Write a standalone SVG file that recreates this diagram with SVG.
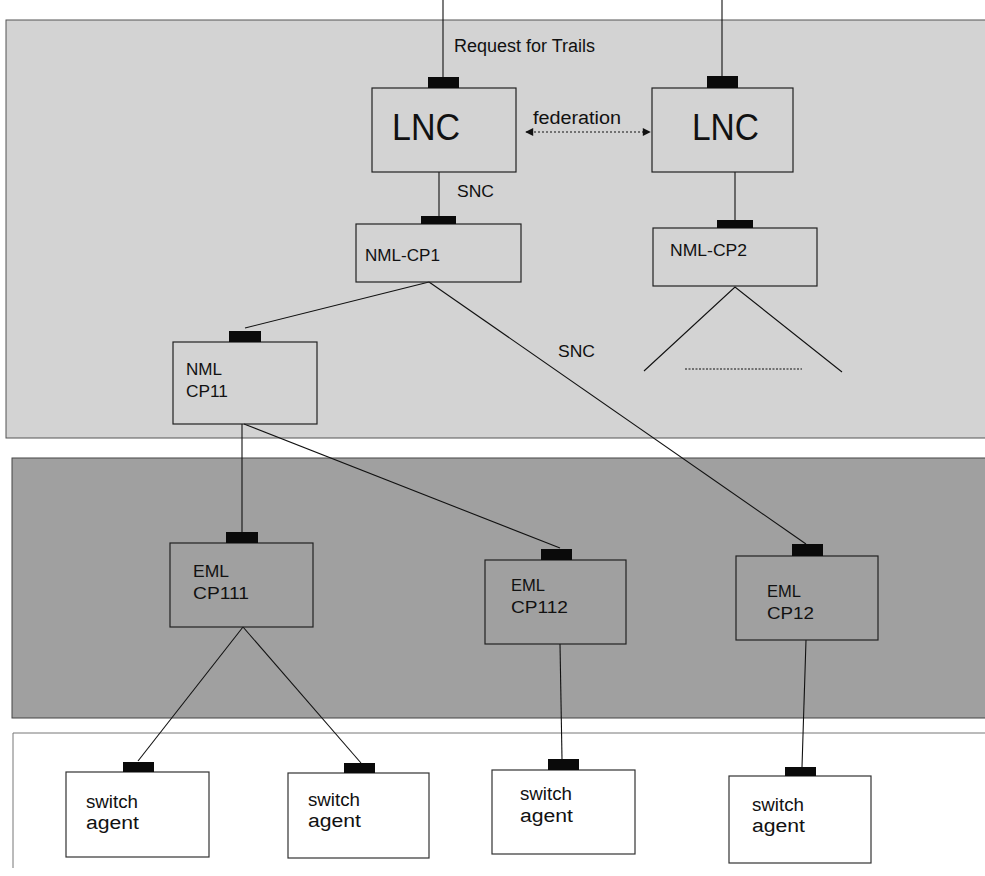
<svg xmlns="http://www.w3.org/2000/svg" width="985" height="876" viewBox="0 0 985 876">
<defs>
<style>
.box{fill:none;stroke:#222;stroke-width:1.2}
.wbox{fill:#fff;stroke:#333;stroke-width:1.2}
.port{fill:#0a0a0a}
.ln{stroke:#111;stroke-width:1.1;fill:none}
text{font-family:"Liberation Sans",Arial,sans-serif;fill:#111}
.t17{font-size:17px}
.t15{font-size:16px}
.t18{font-size:18px}
.big{font-size:37px}
</style>
<marker id="ah" viewBox="0 0 10 10" refX="9" refY="5" markerWidth="11" markerHeight="8" orient="auto-start-reverse" markerUnits="userSpaceOnUse">
<path d="M0,0 L10,5 L0,10 z" fill="#111"/>
</marker>
</defs>
<rect width="985" height="876" fill="#fff"/>
<g id="bands">
<rect x="6" y="20" width="990" height="418" fill="#d3d3d3" stroke="#555" stroke-width="1"/>
<rect x="12" y="458" width="990" height="260" fill="#a0a0a0" stroke="#444" stroke-width="1"/>
<path d="M985,733 H13 V868" fill="none" stroke="#777" stroke-width="1"/>
</g>
<g id="connectors">
<line class="ln" x1="443" y1="0" x2="443" y2="77"/>
<line class="ln" x1="722" y1="0" x2="722" y2="76"/>
<line class="ln" x1="526" y1="132" x2="650" y2="132" stroke-dasharray="2,2" marker-start="url(#ah)" marker-end="url(#ah)"/>
<line class="ln" x1="439" y1="172" x2="439" y2="216"/>
<line class="ln" x1="735" y1="172" x2="735" y2="220"/>
<polyline class="ln" points="644,371 735,287 842,372"/>
<line class="ln" x1="685" y1="369" x2="802" y2="369" stroke-dasharray="2,1.5" stroke-width="0.8"/>
<line class="ln" x1="429" y1="282" x2="245" y2="328"/>
<line class="ln" x1="429" y1="282" x2="806" y2="544"/>
<line class="ln" x1="242" y1="424" x2="242" y2="532"/>
<line class="ln" x1="244" y1="424" x2="560" y2="548"/>
<line class="ln" x1="243" y1="627" x2="138" y2="761"/>
<line class="ln" x1="243" y1="627" x2="361" y2="763"/>
<line class="ln" x1="560" y1="644" x2="562" y2="759"/>
<line class="ln" x1="806" y1="640" x2="802" y2="767"/>
<text class="t18" x="454" y="52" textLength="141" lengthAdjust="spacingAndGlyphs">Request for Trails</text>
<text class="t18" x="533" y="124" textLength="88" lengthAdjust="spacingAndGlyphs">federation</text>
<text class="t17" x="457" y="197" textLength="37" lengthAdjust="spacingAndGlyphs">SNC</text>
<text class="t17" x="558" y="357" textLength="37" lengthAdjust="spacingAndGlyphs">SNC</text>
</g>
<g id="lnc1">
<rect class="box" x="372" y="88" width="144" height="84"/>
<rect class="port" x="428" y="77" width="31" height="11"/>
<text class="big" x="392" y="140" textLength="68" lengthAdjust="spacingAndGlyphs">LNC</text>
</g>
<g id="lnc2">
<rect class="box" x="652" y="88" width="141" height="84"/>
<rect class="port" x="707" y="76" width="31" height="12"/>
<text class="big" x="692" y="140" textLength="67" lengthAdjust="spacingAndGlyphs">LNC</text>
</g>
<g id="nml-cp1">
<rect class="box" x="356" y="224" width="165" height="58"/>
<rect class="port" x="421" y="216" width="35" height="8"/>
<text class="t17" x="365" y="261" textLength="75" lengthAdjust="spacingAndGlyphs">NML-CP1</text>
</g>
<g id="nml-cp2">
<rect class="box" x="653" y="228" width="164" height="58"/>
<rect class="port" x="717" y="220" width="36" height="8"/>
<text class="t17" x="670" y="256" textLength="77" lengthAdjust="spacingAndGlyphs">NML-CP2</text>
</g>
<g id="nml-cp11">
<rect class="box" x="173" y="342" width="144" height="82"/>
<rect class="port" x="229" y="331" width="32" height="11"/>
<text class="t17" x="186" y="375" textLength="36" lengthAdjust="spacingAndGlyphs">NML</text>
<text class="t17" x="186" y="397" textLength="42" lengthAdjust="spacingAndGlyphs">CP11</text>
</g>
<g id="eml-cp111">
<rect class="box" x="170" y="543" width="143" height="84"/>
<rect class="port" x="226" y="532" width="32" height="11"/>
<text class="t15" x="193" y="577" textLength="36" lengthAdjust="spacingAndGlyphs">EML</text>
<text class="t15" x="193" y="599" textLength="56" lengthAdjust="spacingAndGlyphs">CP111</text>
</g>
<g id="eml-cp112">
<rect class="box" x="485" y="560" width="141" height="84"/>
<rect class="port" x="541" y="549" width="31" height="11"/>
<text class="t15" x="511" y="591" textLength="34" lengthAdjust="spacingAndGlyphs">EML</text>
<text class="t15" x="511" y="613" textLength="57" lengthAdjust="spacingAndGlyphs">CP112</text>
</g>
<g id="eml-cp12">
<rect class="box" x="736" y="556" width="142" height="84"/>
<rect class="port" x="792" y="544" width="31" height="12"/>
<text class="t15" x="767" y="597" textLength="34" lengthAdjust="spacingAndGlyphs">EML</text>
<text class="t15" x="767" y="619" textLength="47" lengthAdjust="spacingAndGlyphs">CP12</text>
</g>
<g id="switch1">
<rect class="wbox" x="66" y="772" width="143" height="85"/>
<rect class="port" x="123" y="762" width="31" height="10"/>
<text class="t18" x="86" y="808" textLength="52" lengthAdjust="spacingAndGlyphs">switch</text>
<text class="t18" x="86" y="829" textLength="53" lengthAdjust="spacingAndGlyphs">agent</text>
</g>
<g id="switch2">
<rect class="wbox" x="288" y="773" width="141" height="85"/>
<rect class="port" x="344" y="763" width="31" height="10"/>
<text class="t18" x="308" y="806" textLength="52" lengthAdjust="spacingAndGlyphs">switch</text>
<text class="t18" x="308" y="827" textLength="53" lengthAdjust="spacingAndGlyphs">agent</text>
</g>
<g id="switch3">
<rect class="wbox" x="492" y="770" width="143" height="84"/>
<rect class="port" x="548" y="759" width="31" height="11"/>
<text class="t18" x="520" y="800" textLength="52" lengthAdjust="spacingAndGlyphs">switch</text>
<text class="t18" x="520" y="822" textLength="53" lengthAdjust="spacingAndGlyphs">agent</text>
</g>
<g id="switch4">
<rect class="wbox" x="729" y="776" width="142" height="87"/>
<rect class="port" x="785" y="767" width="31" height="9"/>
<text class="t18" x="752" y="811" textLength="52" lengthAdjust="spacingAndGlyphs">switch</text>
<text class="t18" x="752" y="832" textLength="53" lengthAdjust="spacingAndGlyphs">agent</text>
</g>
</svg>
